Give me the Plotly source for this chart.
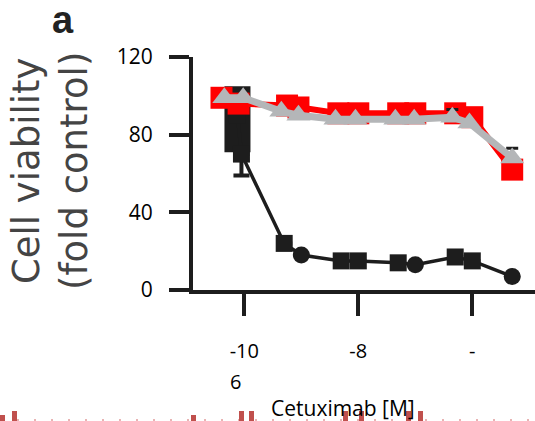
import plotly.graph_objects as go

# Cetuximab concentration (log10 M) and cell viability (% of control)
x_black = [-10.12, -10.05, -9.3, -9.0, -8.3, -8.0, -7.3, -7.0, -6.3, -6.0, -5.3]
y_black = [90, 70, 24, 18, 15, 15, 14, 13, 17, 15, 7]
err_black_plus = [15, 0, 0, 0, 0, 0, 0, 0, 0, 0, 0]
err_black_minus = [19, 11, 0, 0, 0, 0, 0, 0, 0, 0, 0]
sym_black = ["square", "square", "square", "circle", "square", "square",
             "square", "circle", "square", "square", "circle"]

x_red = [-10.4, -10.1, -9.25, -9.05, -8.35, -8.0, -7.3, -7.0, -6.3, -6.0, -5.3]
y_red = [99, 96, 95, 94, 91, 91, 91, 91, 91, 89, 62]

x_gray = [-10.35, -10.02, -9.35, -9.05, -8.4, -8.05, -7.35, -7.02, -6.35, -6.05, -5.3]
y_gray = [99, 99, 92, 90, 88, 88, 88, 88, 89, 86, 68]
err_gray_plus = [0, 0, 0, 0, 0, 0, 0, 0, 4, 0, 5]

x_ticks = [-10, -8, -6]
x_tick_text = ["-10", "-8", "-"]
y_ticks = [0, 40, 80, 120]

# plot-area geometry in pixels
L, R, T, B = 193, 535, 57, 290
W, H = 535, 421


def px(xp):
    return (xp - L) / (R - L)


def py(yp):
    return (B - yp) / (B - T)


fig = go.Figure()

# wide spread of replicates at the lowest dose, drawn as a broad bar
x0b, y0b = x_black[0], y_black[0]
fig.add_trace(go.Scatter(
    x=[x0b, x0b], y=[y0b - err_black_minus[0], y0b + err_black_plus[0]],
    mode="lines", line=dict(color="#1d1d1d", width=26),
    showlegend=False, hoverinfo="skip"))

# error bars for the remaining black points
fig.add_trace(go.Scatter(
    x=x_black[1:], y=y_black[1:], mode="markers",
    marker=dict(size=1, color="#1d1d1d"),
    error_y=dict(type="data", symmetric=False, array=err_black_plus[1:],
                 arrayminus=err_black_minus[1:], color="#1d1d1d",
                 thickness=4, width=8),
    showlegend=False, hoverinfo="skip"))

fig.add_trace(go.Scatter(
    x=x_black, y=y_black, mode="lines+markers",
    line=dict(color="#1d1d1d", width=3.5),
    marker=dict(symbol=sym_black, size=17, color="#1d1d1d"),
    showlegend=False))

fig.add_trace(go.Scatter(
    x=x_red, y=y_red, mode="lines+markers",
    line=dict(color="#ff0000", width=6),
    marker=dict(symbol="square", size=22, color="#ff0000"),
    showlegend=False))

fig.add_trace(go.Scatter(
    x=x_gray, y=y_gray, mode="lines+markers",
    line=dict(color="#b4b6b8", width=7),
    marker=dict(symbol="triangle-up", size=21, color="#b4b6b8"),
    error_y=dict(type="data", symmetric=False, array=err_gray_plus,
                 arrayminus=[0] * len(y_gray), color="#1d1d1d",
                 thickness=3, width=6),
    showlegend=False))

axis_color = "#1d1d1d"
fig.update_xaxes(
    range=[-10.9, -4.9], tickvals=x_ticks, ticktext=x_tick_text,
    ticks="outside", ticklen=22, tickwidth=4, tickcolor=axis_color,
    showline=True, linewidth=4, linecolor=axis_color,
    showgrid=False, zeroline=False, ticklabelstandoff=18,
    tickfont=dict(family="Open Sans", size=20, color="#000000"))
fig.update_yaxes(
    range=[0, 120], tickvals=y_ticks,
    ticks="outside", ticklen=20, tickwidth=4, tickcolor=axis_color,
    showline=True, linewidth=4, linecolor=axis_color,
    showgrid=False, zeroline=False, ticklabelstandoff=12,
    tickfont=dict(family="Open Sans", size=21, color="#000000"))

annotations = [
    dict(text="Cell viability<br>(fold control)", textangle=-90,
         xref="paper", yref="paper", x=px(50), y=py(171),
         xanchor="center", yanchor="middle", showarrow=False,
         font=dict(family="DejaVu Sans", size=37, color="#444444")),
    dict(text="<b>a</b>", xref="paper", yref="paper", x=px(63), y=py(20),
         xanchor="center", yanchor="middle", showarrow=False,
         font=dict(family="Liberation Sans", size=38, color="#222222")),
    dict(text="6", xref="x", yref="paper", x=x_ticks[0], y=py(381),
         xshift=-16, xanchor="left", yanchor="middle", showarrow=False,
         font=dict(family="Open Sans", size=20, color="#000000")),
    dict(text="Cetuximab [M]", xref="paper", yref="paper", x=px(343), y=py(408),
         xanchor="center", yanchor="middle", showarrow=False,
         font=dict(family="Open Sans", size=21, color="#000000")),
]

# red underline marks along the bottom edge
shapes = [dict(type="line", xref="paper", yref="paper",
               x0=px(0), x1=px(535), y0=py(420), y1=py(420),
               line=dict(color="#e8b4b4", width=2, dash="2px,15px"))]
for x0, top in [(0, 415), (12, 411), (191, 415), (239, 411), (249, 411),
                (343, 411), (359, 411), (406, 411), (418, 411)]:
    shapes.append(dict(type="rect", xref="paper", yref="paper",
                       x0=px(x0), x1=px(x0 + 5), y0=py(top), y1=py(422),
                       fillcolor="#c0504d", line=dict(width=0)))

fig.update_layout(
    width=W, height=H,
    margin=dict(l=L, r=W - R, t=T, b=H - B),
    paper_bgcolor="white", plot_bgcolor="white",
    annotations=annotations, shapes=shapes,
)

fig.write_html("out.html")
